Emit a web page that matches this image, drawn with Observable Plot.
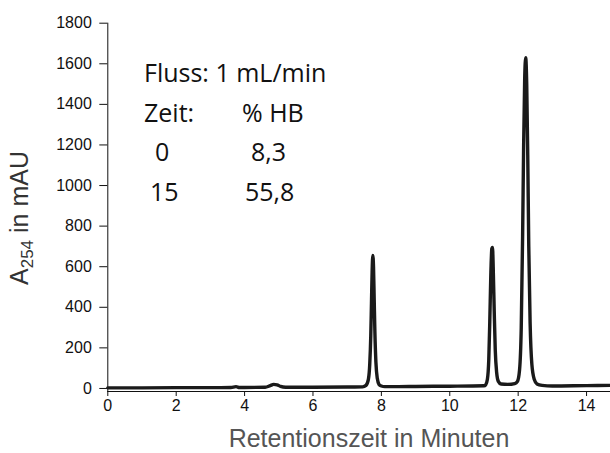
<!DOCTYPE html>
<html>
<head>
<meta charset="utf-8">
<script src="https://cdn.jsdelivr.net/npm/d3@7"></script>
<script src="https://cdn.jsdelivr.net/npm/@observablehq/plot@0.6"></script>
<style>
  html, body { margin: 0; padding: 0; background: white; }
</style>
</head>
<body>
<div id="chart"></div>
<script>
// Retention time (min) and absorbance A254 (mAU)
const times = [0, 1, 2, 3, 3.6, 3.75, 3.85, 4.0, 4.6, 4.75, 4.85, 4.95, 5.05, 5.2, 6, 7,
  7.45, 7.55, 7.62, 7.66, 7.69, 7.71, 7.73, 7.75, 7.77, 7.79, 7.81, 7.84, 7.88, 7.93, 8.0, 8.1,
  8.5, 9, 10, 11, 11.05, 11.1, 11.14, 11.17, 11.2, 11.23, 11.25, 11.27, 11.3, 11.33, 11.37,
  11.42, 11.5, 11.7, 11.9, 11.98, 12.04, 12.09, 12.13, 12.16, 12.19, 12.22, 12.25, 12.28,
  12.31, 12.35, 12.4, 12.47, 12.55, 12.7, 13.0, 14.0, 14.7];
const absorbance = [3, 3, 4, 4, 5, 9, 5, 5, 6, 14, 20, 18, 10, 6, 6, 7,
  8, 15, 45, 120, 260, 420, 580, 655, 600, 440, 280, 130, 50, 20, 12, 9,
  9, 10, 11, 13, 18, 45, 140, 330, 560, 690, 695, 600, 380, 190, 80,
  35, 22, 20, 24, 35, 90, 300, 750, 1200, 1520, 1630, 1500, 1150,
  700, 320, 120, 45, 22, 15, 12, 14, 15];

const xTicks = [0, 2, 4, 6, 8, 10, 12, 14];
const yTicks = [0, 200, 400, 600, 800, 1000, 1200, 1400, 1600, 1800];

const xTitle = "Retentionszeit in Minuten";
const yTitleMain = "A";
const yTitleSub = "254";
const yTitleRest = " in mAU";

const noteLine1 = "Fluss: 1 mL/min";
const noteHeader = ["Zeit:", "% HB"];
const noteRow1 = ["0", "8,3"];
const noteRow2 = ["15", "55,8"];

const trace = times.map((t, i) => ({t, a: absorbance[i]}));

const chart = Plot.plot({
  width: 610,
  height: 453,
  marginLeft: 107.3,
  marginRight: 0,
  marginTop: 22.7,
  marginBottom: 62,
  style: {fontFamily: "'Liberation Sans', Arial, sans-serif", fontSize: "16px", background: "white", color: "#111"},
  x: {domain: [0, 14.7]},
  y: {domain: [-15, 1800]},
  marks: [
    Plot.frame({anchor: "bottom", stroke: "#111"}),
    Plot.frame({anchor: "left", stroke: "#111"}),
    Plot.axisX({ticks: xTicks, tickSize: 5, tickPadding: 3, label: null, fontSize: 16, tickFormat: d => String(d)}),
    Plot.axisY({ticks: yTicks, tickSize: 8, tickPadding: 8, label: null, fontSize: 16, tickFormat: d => String(d)}),
    Plot.line(trace, {x: "t", y: "a", stroke: "#1a1a1a", strokeWidth: 3.4, curve: "monotone-x", strokeLinejoin: "round"})
  ]
});

document.getElementById("chart").appendChild(chart);

const svg = d3.select(chart);

// x axis title
svg.append("text")
  .attr("x", 369).attr("y", 447)
  .attr("text-anchor", "middle")
  .attr("font-family", "'Liberation Sans', Arial, sans-serif")
  .attr("font-size", 25)
  .attr("fill", "#555")
  .text(xTitle);

// y axis title with subscript
const yt = svg.append("text")
  .attr("transform", "translate(28,218) rotate(-90)")
  .attr("text-anchor", "middle")
  .attr("font-family", "'Liberation Sans', Arial, sans-serif")
  .attr("font-size", 25)
  .attr("fill", "#333");
yt.append("tspan").text(yTitleMain);
yt.append("tspan").attr("font-size", 17).attr("dy", 5).text(yTitleSub);
yt.append("tspan").attr("dy", -5).text(yTitleRest);

// annotation
const noteFont = "'Open Sans', 'Noto Sans', sans-serif";
function note(x, y, s) {
  svg.append("text").attr("x", x).attr("y", y)
    .attr("text-anchor", "start")
    .attr("font-family", noteFont).attr("font-size", 25).attr("fill", "#111")
    .text(s);
}
note(144, 82, noteLine1);
note(144, 121.5, noteHeader[0]);
note(242, 121.5, noteHeader[1]);
note(155, 161, noteRow1[0]);
note(251, 161, noteRow1[1]);
note(150, 200.5, noteRow2[0]);
note(245, 200.5, noteRow2[1]);
</script>
</body>
</html>
